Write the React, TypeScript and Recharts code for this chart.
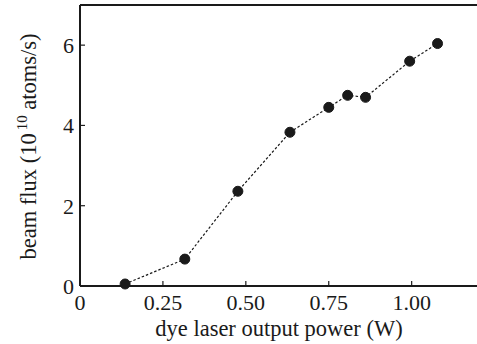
import { LineChart, Line, XAxis, YAxis, Label } from 'recharts';

const power = [0.136, 0.316, 0.476, 0.633, 0.75, 0.807, 0.861, 0.994, 1.078];
const flux = [0.05, 0.67, 2.36, 3.83, 4.45, 4.75, 4.7, 5.6, 6.04];
const xTicks = [0, 0.25, 0.5, 0.75, 1.0];
const yTicks = [0, 2, 4, 6];
const yMinor = [1, 3, 5];

const data = power.map((p, i) => ({ power: p, flux: flux[i] }));

const ink = '#1a1a1a';
const font = 'Liberation Serif, Times New Roman, serif';
const axisLine = { stroke: ink, strokeWidth: 2 };
const tickLine = { stroke: ink, strokeWidth: 1.2 };
const tickStyle = { fontSize: 22, fill: ink, fontFamily: font };

const fmtX = (v: number) => (v === 0 ? '0' : v.toFixed(2));

export default function App() {
  return (
    <div style={{ position: 'absolute', left: 0, top: 0, width: 477, height: 344, overflow: 'hidden', background: '#fff' }}>
      <LineChart width={480} height={344} data={data} margin={{ top: 4, right: 1, bottom: 57, left: 78 }}>
        <XAxis
          xAxisId="b"
          dataKey="power"
          type="number"
          domain={[0, 1.2]}
          ticks={xTicks}
          tickFormatter={fmtX}
          height={1}
          tickSize={-5}
          tickMargin={13}
          axisLine={axisLine}
          tickLine={tickLine}
          tick={tickStyle}
          interval={0}
        >
          <Label
            content={({ viewBox }: any) => (
              <text
                x={viewBox.x + viewBox.width / 2}
                y={viewBox.y + 50}
                textAnchor="middle"
                fontSize={22.5}
                fontFamily={font}
                fill={ink}
              >
                dye laser output power (W)
              </text>
            )}
          />
        </XAxis>
        <XAxis
          xAxisId="t"
          dataKey="power"
          type="number"
          orientation="top"
          domain={[0, 1.2]}
          ticks={xTicks}
          height={1}
          tickSize={-5}
          axisLine={axisLine}
          tickLine={tickLine}
          tick={false}
          interval={0}
        />
        <YAxis
          yAxisId="l"
          type="number"
          domain={[0, 7]}
          ticks={yTicks}
          width={1}
          tickSize={-5}
          tickMargin={11}
          axisLine={axisLine}
          tickLine={tickLine}
          tick={tickStyle}
          interval={0}
        >
          <Label
            content={({ viewBox }: any) => {
              const cx = 36;
              const cy = viewBox.y + viewBox.height / 2 + 1;
              return (
                <text
                  x={cx}
                  y={cy}
                  transform={`rotate(-90 ${cx} ${cy})`}
                  textAnchor="middle"
                  fontSize={22.5}
                  fontFamily={font}
                  fill={ink}
                >
                  beam flux (10
                  <tspan dx={3} dy={-9} fontSize={15}>10</tspan>
                  <tspan dy={9}> atoms/s)</tspan>
                </text>
              );
            }}
          />
        </YAxis>
        <YAxis
          yAxisId="lm"
          type="number"
          domain={[0, 7]}
          ticks={yMinor}
          width={1}
          tickSize={-3}
          axisLine={false}
          tickLine={{ stroke: '#888', strokeWidth: 1 }}
          tick={false}
          interval={0}
        />
        <YAxis
          yAxisId="r"
          type="number"
          orientation="right"
          domain={[0, 7]}
          ticks={yTicks}
          width={1}
          tickSize={-5}
          axisLine={axisLine}
          tickLine={tickLine}
          tick={false}
          interval={0}
        />
        <Line
          xAxisId="b"
          yAxisId="l"
          dataKey="flux"
          type="linear"
          stroke={ink}
          strokeWidth={1.2}
          strokeDasharray="2.5 2"
          dot={{ r: 5, fill: ink, stroke: ink, strokeWidth: 1, strokeDasharray: '' }}
          isAnimationActive={false}
        />
      </LineChart>
    </div>
  );
}
